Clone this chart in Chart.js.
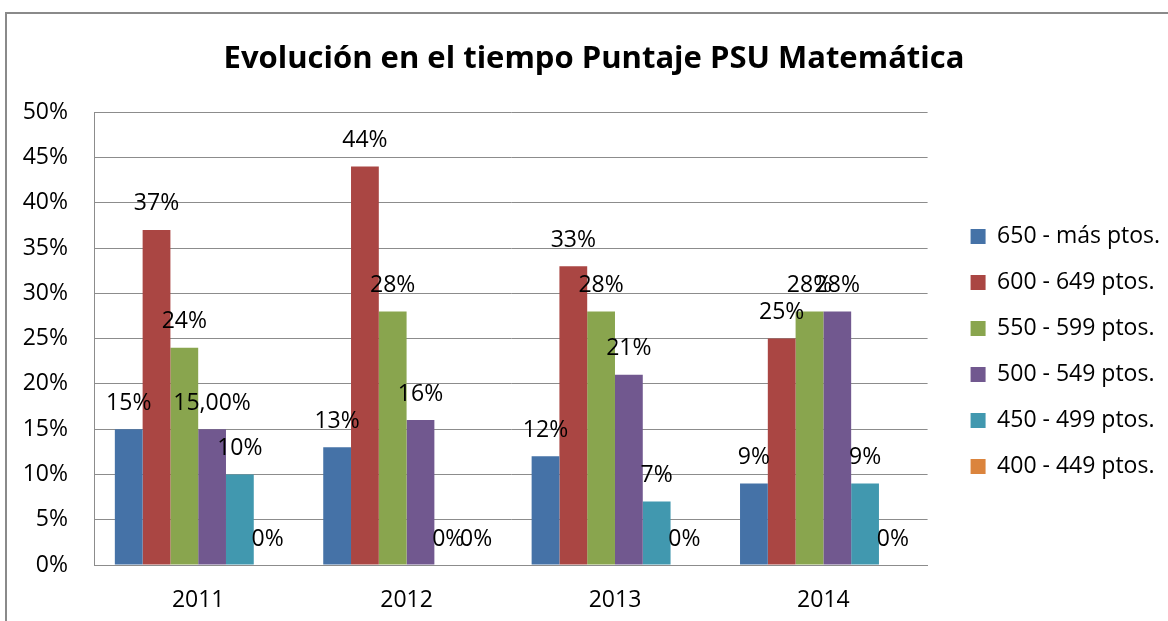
<!DOCTYPE html>
<html>
<head>
<meta charset="utf-8">
<script src="https://cdn.jsdelivr.net/npm/chart.js@4/dist/chart.umd.min.js"></script>
<style>
  html, body { margin:0; padding:0; background:#fff; overflow:hidden; }
  #wrap { position:relative; width:1168px; height:621px; }
  #frame { position:absolute; left:5px; top:12px; width:1200px; height:700px; border:2px solid #8a8a8a; box-sizing:border-box; }
  canvas { position:absolute; left:0; top:0; }
</style>
</head>
<body>
<div id="wrap">
  <div id="frame"></div>
  <canvas id="c" width="1168" height="621"></canvas>
</div>
<script>
// ── data ──
const YEARS = ['2011', '2012', '2013', '2014'];
const SERIES_NAMES = ['650 - más ptos.', '600 - 649 ptos.', '550 - 599 ptos.', '500 - 549 ptos.', '450 - 499 ptos.', '400 - 449 ptos.'];
const S650 = [15, 13, 12, 9];
const S600 = [37, 44, 33, 25];
const S550 = [24, 28, 28, 28];
const S500 = [15, 16, 21, 28];
const S450 = [10, 0, 7, 9];
const S400 = [0, 0, 0, 0];
const Y_TICKS = [0, 5, 10, 15, 20, 25, 30, 35, 40, 45, 50];
// one label is shown with decimals in the original
const LABEL_OVERRIDES = [[3, 0, '15,00%']];

const COLORS = ['#4572A7', '#AA4643', '#89A54E', '#71588F', '#4198AF', '#DB843D'];
const FONT = "'Open Sans', 'DejaVu Sans', sans-serif";
const GRID = '#8c8c8c';
const TXT = 23;
const LEGEND_GAP = 20;  // extra room between plot and legend
const TITLE_SHIFT = 19; // title sits a little right of canvas centre

const seriesData = [S650, S600, S550, S500, S450, S400];

const tweaks = {
  id: 'tweaks',
  afterLayout(chart) {
    // push the legend a bit away from the plot
    const lg = chart.legend;
    const dx = chart.chartArea.right + LEGEND_GAP - lg.left;
    lg.left += dx; lg.right += dx;
    const tb = chart.titleBlock;
    tb.left += TITLE_SHIFT; tb.right += TITLE_SHIFT;
  },
  // value labels above each bar
  afterDatasetsDraw(chart) {
    const ctx = chart.ctx;
    ctx.save();
    ctx.font = TXT + 'px ' + FONT;
    ctx.fillStyle = '#000';
    ctx.textAlign = 'center';
    ctx.textBaseline = 'middle';
    chart.data.datasets.forEach((ds, di) => {
      const meta = chart.getDatasetMeta(di);
      meta.data.forEach((bar, i) => {
        let txt = ds.data[i] + '%';
        LABEL_OVERRIDES.forEach(o => { if (o[0] === di && o[1] === i) txt = o[2]; });
        ctx.fillText(txt, bar.x, bar.y - 26);
      });
    });
    ctx.restore();
  }
};

new Chart(document.getElementById('c').getContext('2d'), {
  type: 'bar',
  data: {
    labels: YEARS,
    datasets: seriesData.map((d, i) => ({
      label: SERIES_NAMES[i], data: d, backgroundColor: COLORS[i], borderWidth: 0,
      categoryPercentage: 0.8, barPercentage: 1.0
    }))
  },
  options: {
    responsive: false, animation: false,
    layout: { padding: { top: 12, right: 18, bottom: 0, left: 0 } },
    plugins: {
      title: { display: true, text: 'Evolución en el tiempo Puntaje PSU Matemática', color: '#000',
        font: { family: FONT, size: 31, weight: 'bold', lineHeight: 1.2 }, padding: { top: 29, bottom: 34 } },
      legend: { position: 'right', align: 'center',
        title: { display: true, text: ' ', font: { size: 10, lineHeight: 1 }, padding: { top: 0, bottom: 60 } },
        labels: { color: '#000', font: { family: FONT, size: TXT }, boxWidth: 15, boxHeight: 15, padding: 23 } },
      tooltip: { enabled: false }
    },
    scales: {
      x: {
        grid: { display: false, drawTicks: false },
        border: { color: GRID, width: 1 },
        ticks: { color: '#000', font: { family: FONT, size: TXT }, padding: 22 },
        afterFit(s) { s.height = 56; }
      },
      y: {
        min: 0, max: 50,
        afterBuildTicks(s) { s.ticks = Y_TICKS.map(v => ({ value: v })); },
        grid: { color: GRID, drawTicks: false },
        border: { color: GRID, width: 1 },
        ticks: { color: '#000', font: { family: FONT, size: TXT }, padding: 26, callback: v => v + '%' },
        afterFit(s) { s.width = 94; }
      }
    }
  },
  plugins: [tweaks]
});
</script>
</body>
</html>
